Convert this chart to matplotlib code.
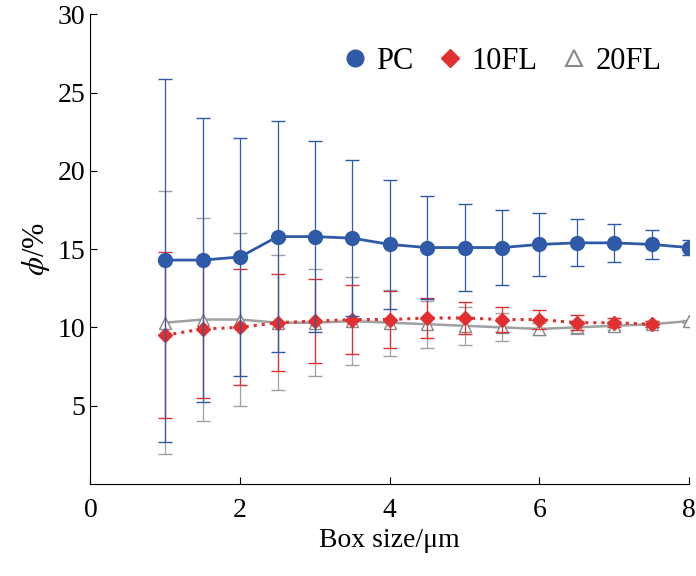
import matplotlib
matplotlib.use("Agg")
import matplotlib.pyplot as plt
from matplotlib.lines import Line2D

plt.rcParams['font.family'] = ['Liberation Serif', 'DejaVu Serif']
plt.rcParams['mathtext.fontset'] = 'stix'

x = [1, 1.5, 2, 2.5, 3, 3.5, 4, 4.5, 5, 5.5, 6, 6.5, 7, 7.5, 8]
pc = [14.3, 14.3, 14.5, 15.8, 15.8, 15.7, 15.3, 15.1, 15.1, 15.1, 15.3, 15.4, 15.4, 15.3, 15.1]
pc_err = [11.6, 9.1, 7.6, 7.4, 6.1, 5.0, 4.1, 3.3, 2.8, 2.4, 2.0, 1.5, 1.2, 0.9, 0.5]
x10 = x[:14]
fl10 = [9.5, 9.9, 10.0, 10.3, 10.4, 10.5, 10.5, 10.6, 10.6, 10.5, 10.5, 10.3, 10.3, 10.2]
fl10_err = [5.3, 4.4, 3.7, 3.1, 2.7, 2.2, 1.8, 1.3, 1.0, 0.8, 0.6, 0.5, 0.3, 0.2]
fl20 = [10.3, 10.5, 10.5, 10.3, 10.3, 10.4, 10.3, 10.2, 10.1, 10.0, 9.9, 10.0, 10.1, 10.2, 10.4]
fl20_err = [8.4, 6.5, 5.5, 4.3, 3.4, 2.8, 2.1, 1.5, 1.2, 0.9, 0.4, 0.4, 0.3, 0.2, 0.1]

fig, ax = plt.subplots(figsize=(6.96, 5.76), dpi=100)
fig.subplots_adjust(left=0.13, right=0.99, top=0.975, bottom=0.16)

ax.errorbar(x, fl20, yerr=fl20_err, color='#a0a0a0', marker='^', mfc='white', mec='#888888',
            ms=9, lw=1.8, capsize=5, elinewidth=0.9, zorder=2)
ax.errorbar(x10, fl10, yerr=fl10_err, color='#e03030', marker='D', ms=7, ls=':', lw=2.2,
            capsize=5, elinewidth=0.9, zorder=3)
ax.errorbar(x, pc, yerr=pc_err, color='#2f5aa8', marker='o', ms=10, lw=2, capsize=5,
            elinewidth=0.9, zorder=4)

handles = [Line2D([], [], ls='none', marker='o', color='#2f5aa8', ms=12),
           Line2D([], [], ls='none', marker='D', color='#e03030', ms=9),
           Line2D([], [], ls='none', marker='^', mfc='white', mec='#888888', ms=11, mew=1.5)]
ax.legend(handles, ['PC', '10FL', '20FL'], loc='upper right', ncol=3, frameon=False,
          fontsize=22, handletextpad=0.1, columnspacing=0.6, handlelength=1.2,
          bbox_to_anchor=(1.0, 0.99))

ax.set_xlim(0, 8)
ax.set_ylim(0, 30)
ax.set_xticks([0, 2, 4, 6, 8])
ax.set_yticks([5, 10, 15, 20, 25, 30])
ax.tick_params(labelsize=20, direction='in', length=5)
ax.tick_params(axis='x', pad=10)
ax.set_xlabel('Box size/μm', fontsize=20, labelpad=4)
ax.set_ylabel(r'$\phi$/%', fontsize=22)
for s in ['top', 'right']:
    ax.spines[s].set_visible(False)

fig.savefig('out.png')
